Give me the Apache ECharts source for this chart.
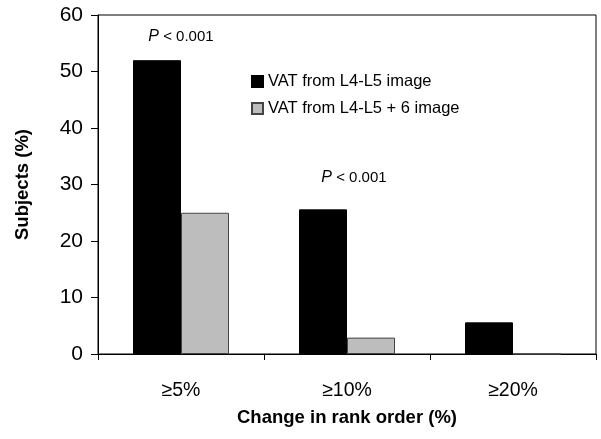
<!DOCTYPE html>
<html>
<head>
<meta charset="utf-8">
<script src="https://cdn.jsdelivr.net/npm/echarts@6/dist/echarts.min.js"></script>
<style>
  html, body { margin: 0; padding: 0; background: #fff; }
  #chart { width: 601px; height: 439px; }
</style>
</head>
<body>
<div id="chart"></div>
<script>
const categories = ["≥5%", "≥10%", "≥20%"];
const seriesNames = ["VAT from L4-L5 image", "VAT from L4-L5 + 6 image"];
const vatL4L5 = [52, 25.6, 5.6];
const vatL4L5plus6 = [25, 2.9, 0];
const yTicks = { min: 0, max: 60, interval: 10 };
// p-value notes: [category, y value]
const pNotes = [["≥5%", 56.2], ["≥10%", 31.2]];

const font = "Liberation Sans, Arial, sans-serif";
const chart = echarts.init(document.getElementById("chart"));

const option = {
  animation: false,
  textStyle: { fontFamily: font },
  grid: {
    left: 98, right: 5, top: 15, bottom: 85,
    show: true, borderColor: "#000", borderWidth: 1
  },
  legend: {
    orient: "vertical",
    left: 246, top: 68,
    itemWidth: 11, itemHeight: 11, itemGap: 10,
    icon: "rect",
    textStyle: { fontSize: 16.5, color: "#000", fontFamily: font },
    data: seriesNames
  },
  xAxis: {
    type: "category",
    data: categories,
    axisLine: { lineStyle: { color: "#000" } },
    axisTick: { show: true, length: 6, lineStyle: { color: "#000" } },
    axisLabel: { color: "#000", fontSize: 19.5, margin: 27 },
    name: "Change in rank order (%)",
    nameLocation: "middle",
    nameGap: 54,
    nameTextStyle: { color: "#000", fontSize: 18.5, fontWeight: "bold" }
  },
  yAxis: {
    type: "value",
    min: yTicks.min, max: yTicks.max, interval: yTicks.interval,
    splitLine: { show: false },
    axisLine: { show: true, lineStyle: { color: "#000" } },
    axisTick: { show: true, length: 7, lineStyle: { color: "#000" } },
    axisLabel: { color: "#000", fontSize: 21, margin: 15 },
    name: "Subjects (%)",
    nameLocation: "middle",
    nameGap: 66,
    nameTextStyle: { color: "#000", fontSize: 18.5, fontWeight: "bold" }
  },
  series: [
    {
      name: seriesNames[0],
      type: "bar",
      data: vatL4L5,
      barWidth: 48,
      barGap: "0%",
      itemStyle: { color: "#000", borderColor: "#000", borderWidth: 1 },
      markPoint: {
        symbol: "circle",
        symbolSize: 0,
        data: pNotes.map((p, i) => ({
          coord: p,
          label: { offset: [i === 0 ? 24 : 31, 0] }
        })),
        label: {
          show: true,
          position: "inside",
          formatter: "{i|P} < 0.001",
          color: "#000",
          fontSize: 15,
          rich: { i: { fontStyle: "italic", fontSize: 16, color: "#000" } }
        }
      }
    },
    {
      name: seriesNames[1],
      type: "bar",
      data: vatL4L5plus6,
      barWidth: 48,
      itemStyle: { color: "#bdbdbd", borderColor: "#444", borderWidth: 1 }
    }
  ]
};
chart.setOption(option);
</script>
</body>
</html>
